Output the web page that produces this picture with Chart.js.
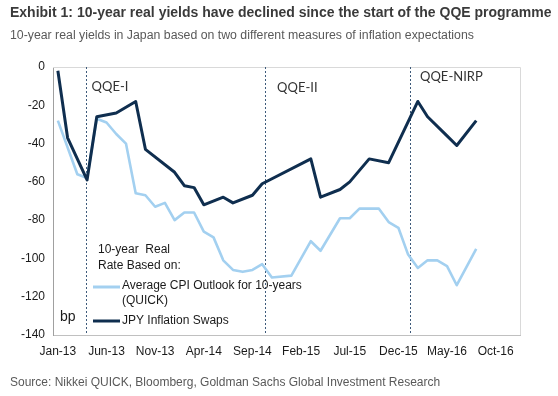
<!DOCTYPE html>
<html>
<head>
<meta charset="utf-8">
<script src="https://cdn.jsdelivr.net/npm/chart.js@4.4.0/dist/chart.umd.min.js"></script>
<style>
  html, body { margin: 0; padding: 0; background: #fff; }
  body { width: 558px; height: 396px; position: relative; overflow: hidden; font-family: "Liberation Sans", Arial, sans-serif; }
  .title { position: absolute; left: 10px; top: 4px; font-size: 14px; font-weight: bold; color: #3a3a3a; white-space: nowrap; }
  .subtitle { position: absolute; left: 10px; top: 28px; font-size: 12.3px; color: #595959; white-space: nowrap; }
  .source { position: absolute; left: 10px; top: 375px; font-size: 12px; color: #595959; white-space: nowrap; }
  #chart { position: absolute; left: 0; top: 0; }
</style>
</head>
<body>
<canvas id="chart" width="558" height="396"></canvas>
<div class="title">Exhibit 1: 10-year real yields have declined since the start of the QQE programme</div>
<div class="subtitle">10-year real yields in Japan based on two different measures of inflation expectations</div>
<div class="source">Source: Nikkei QUICK, Bloomberg, Goldman Sachs Global Investment Research</div>
<script>
// months counted from Jan-13 = 0
const tickMonths = [0, 5, 10, 15, 20, 25, 30, 35, 40, 45];
const tickLabels = ["Jan-13", "Jun-13", "Nov-13", "Apr-14", "Sep-14", "Feb-15", "Jul-15", "Dec-15", "May-16", "Oct-16"];

const swapMonths = [0, 1, 3, 4, 6, 8, 9, 12, 13, 14, 15, 17, 18, 20, 21, 26, 27, 29, 30, 32, 34, 37, 38, 40, 41, 43];
const swapValues = [-2, -37, -59, -26, -24, -18, -43, -55, -62, -63, -72, -68, -71, -67, -61, -48, -68, -64, -60, -48, -50, -18, -26, -36, -41, -28];

const quickMonths = [0, 2, 3, 4, 5, 6, 7, 8, 9, 10, 11, 12, 13, 14, 15, 16, 17, 18, 19, 20, 21, 22, 24, 26, 27, 29, 30, 31, 33, 34, 35, 36, 37, 38, 39, 40, 41, 43];
const quickValues = [-28, -56, -58, -27, -29, -35, -40, -66, -67, -73, -71, -80, -76, -76, -86, -89, -101, -106, -107, -106, -103, -110, -109, -91, -96, -79, -79, -74, -74, -81, -84, -98, -105, -101, -101, -104, -114, -95];

const eventMonths = [2.85, 21.3, 36.2];
const eventLabels = ["QQE-I", "QQE-II", "QQE-NIRP"];

const seriesNames = ["Average CPI Outlook for 10-years", "(QUICK)", "JPY Inflation Swaps"];

const DARK = "#0f2e4f";
const LIGHT = "#a3d0f0";
const FONT = "'Liberation Sans', Arial, sans-serif";

const toPoints = (xs, ys) => xs.map((m, i) => ({ x: m, y: ys[i] }));

const overlay = {
  id: "overlay",
  beforeDatasetsDraw(chart) {
    const { ctx, chartArea: a, scales: { x } } = chart;
    ctx.save();
    // light frame on top and right
    ctx.strokeStyle = "#d9d9d9";
    ctx.lineWidth = 1;
    ctx.beginPath();
    ctx.moveTo(a.left, a.top + 0.5);
    ctx.lineTo(a.right + 0.5, a.top + 0.5);
    ctx.lineTo(a.right + 0.5, a.bottom);
    ctx.stroke();

    // programme start lines
    ctx.strokeStyle = "#3d5a7a";
    ctx.setLineDash([2, 2]);
    eventMonths.forEach((m) => {
      const px = Math.round(x.getPixelForValue(m)) + 0.5;
      ctx.beginPath();
      ctx.moveTo(px, a.top);
      ctx.lineTo(px, a.bottom);
      ctx.stroke();
    });
    ctx.setLineDash([]);

    // programme names
    const dx = [6, 12, 10];
    const dy = [20, 21, 10];
    ctx.fillStyle = "#333333";
    ctx.font = "13px Lato, sans-serif";
    ctx.textBaseline = "middle";
    eventLabels.forEach((t, i) => {
      ctx.fillText(t, x.getPixelForValue(eventMonths[i]) + dx[i], a.top + dy[i]);
    });
    ctx.restore();
  },
  afterDatasetsDraw(chart) {
    const { ctx, chartArea: a } = chart;
    const L = a.left;
    ctx.save();
    ctx.fillStyle = "#1a1a1a";
    ctx.font = "12px " + FONT;
    ctx.textBaseline = "middle";
    ctx.fillText("10-year  Real", L + 45, 250);
    ctx.fillText("Rate Based on:", L + 45, 266);
    ctx.fillText(seriesNames[0], L + 69, 286);
    ctx.fillText(seriesNames[1], L + 69, 301);
    ctx.fillText(seriesNames[2], L + 69, 321);

    ctx.lineWidth = 3;
    ctx.strokeStyle = LIGHT;
    ctx.beginPath();
    ctx.moveTo(L + 40, 287);
    ctx.lineTo(L + 67, 287);
    ctx.stroke();
    ctx.strokeStyle = DARK;
    ctx.beginPath();
    ctx.moveTo(L + 40, 321);
    ctx.lineTo(L + 67, 321);
    ctx.stroke();

    ctx.font = "14px " + FONT;
    ctx.fillText("bp", L + 7, 317);
    ctx.restore();
  }
};

new Chart(document.getElementById("chart"), {
  type: "line",
  data: {
    datasets: [
      {
        label: "JPY Inflation Swaps",
        data: toPoints(swapMonths, swapValues),
        borderColor: DARK,
        borderWidth: 3,
        borderJoinStyle: "round",
        pointRadius: 0,
        tension: 0
      },
      {
        label: "Average CPI Outlook for 10-years (QUICK)",
        data: toPoints(quickMonths, quickValues),
        borderColor: LIGHT,
        borderWidth: 2.6,
        borderJoinStyle: "round",
        pointRadius: 0,
        tension: 0
      }
    ]
  },
  options: {
    responsive: false,
    animation: false,
    layout: { padding: { left: 0, top: 67, right: 38, bottom: 31 } },
    plugins: { legend: { display: false }, tooltip: { enabled: false } },
    scales: {
      x: {
        type: "linear",
        min: -0.5,
        max: 47.5,
        afterBuildTicks: (s) => { s.ticks = tickMonths.map((v) => ({ value: v })); },
        afterFit: (s) => { s.height = 30; },
        ticks: {
          callback: (v) => tickLabels[tickMonths.indexOf(v)],
          font: { size: 12, family: FONT },
          color: "#1a1a1a",
          padding: 9,
          maxRotation: 0,
          autoSkip: false
        },
        grid: { display: false, drawTicks: false },
        border: { color: "#c0c0c0" }
      },
      y: {
        min: -140,
        max: 0,
        afterFit: (s) => { s.width = 53; },
        ticks: {
          stepSize: 20,
          font: { size: 12, family: FONT },
          color: "#1a1a1a",
          padding: 8
        },
        grid: { display: false, drawTicks: false },
        border: { color: "#a0a0a0" }
      }
    }
  },
  plugins: [overlay]
});
</script>
</body>
</html>
